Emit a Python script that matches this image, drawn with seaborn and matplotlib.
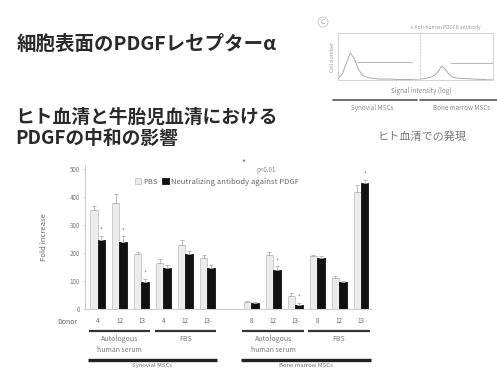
import numpy as np
import pandas as pd
import matplotlib
matplotlib.use('Agg')
import matplotlib.pyplot as plt
import matplotlib.transforms as mtransforms
from matplotlib.patches import Patch
import seaborn as sns

# ---- data ----
cell_types = ["Synovial MSCs"] * 6 + ["Bone marrow MSCs"] * 6
sera = (["Autologous\nhuman serum"] * 3 + ["FBS"] * 3) * 2
donors = ["4", "12", "13", "4", "12", "13", "8", "12", "13", "8", "12", "13"]
pbs = [354, 380, 195, 165, 230, 182, 25, 193, 48, 188, 110, 420]
anti = [246, 240, 98, 146, 198, 148, 22, 140, 16, 184, 95, 450]
pbs_err = [15, 30, 10, 15, 15, 10, 5, 10, 8, 5, 8, 25]
anti_err = [15, 20, 10, 10, 10, 8, 3, 12, 6, 5, 5, 12]
signif = [True, True, True, False, False, False, False, True, True, False, False, True]

# flow cytometry inset (log signal intensity vs cell number)
hist_x = [0.0, 0.2, 0.4, 0.6, 0.8, 1.0, 1.2, 1.4, 1.6, 1.8, 2.0, 2.5, 3.0, 3.5, 4.0]
syn_counts = [3, 12, 35, 58, 45, 22, 10, 6, 4, 3, 2, 2, 1, 1, 0]
bm_counts = [2, 3, 4, 6, 10, 18, 30, 22, 12, 6, 4, 3, 2, 1, 0]
syn_gate = (38, 0.95, 3.6)
bm_gate = (36, 1.65, 4.0)

labels = ["PBS", "Neutralizing antibody against PDGF"]
slots = [f"{c}|{s}|{d}" for c, s, d in zip(cell_types, sera, donors)]
order = slots[:6] + ["gap"] + slots[6:]

df = pd.DataFrame({
    "slot": slots * 2,
    "treatment": [labels[0]] * 12 + [labels[1]] * 12,
    "fold": pbs + anti,
})

sns.set_style('white')
plt.rcParams['font.family'] = ['Noto Sans CJK JP', 'DejaVu Sans']

fig = plt.figure(figsize=(4.97, 3.70), dpi=100)

# titles
fig.text(17 / 497, 1 - 44 / 370, "細胞表面のPDGFレセプターα", fontsize=14,
         fontweight='bold', color='#2a2a2a', va='center')
fig.text(15 / 497, 1 - 128 / 370, "ヒト血清と牛胎児血清における\nPDGFの中和の影響", fontsize=13.5,
         fontweight='bold', color='#2a2a2a', va='center', linespacing=1.1)

# ---- main bar chart ----
ax = fig.add_axes([85 / 497, 1 - 309 / 370, 287 / 497, 144 / 370])
sns.barplot(data=df, x="slot", y="fold", hue="treatment", order=order,
            hue_order=labels, palette=['#ececec', '#111111'], width=0.68,
            errorbar=None, legend=False, ax=ax)

for cont, errs, face, edge in zip(ax.containers, [pbs_err, anti_err],
                                  ['#ececec', '#111111'], ['#c4c4c4', '#111111']):
    bars = sorted([b for b in cont if b.get_height() > 0], key=lambda b: b.get_x())
    xs = [b.get_x() + b.get_width() / 2 for b in bars]
    hs = [b.get_height() for b in bars]
    for b in bars:
        b.set_facecolor(face)
        b.set_edgecolor(edge)
        b.set_linewidth(0.6)
    ax.errorbar(xs, hs, yerr=[np.zeros(len(errs)), errs], fmt='none',
                ecolor='#b0b0b0', elinewidth=0.6, capsize=1.2, capthick=0.6)
    if face == '#111111':
        for x, h, e, s in zip(xs, hs, errs, signif):
            if s:
                ax.text(x, h + e + 4, "*", ha='center', va='bottom',
                        fontsize=4.5, color='#888888')

ax.set_xlim(-0.57, 12.5)
ax.set_ylim(0, 515)
ax.set_yticks([0, 100, 200, 300, 400, 500])
ax.set_yticklabels(["0", "100", "200", "300", "400", "500"])
ax.set_xticks(range(len(order)))
ax.set_xticklabels([s.split("|")[-1] if s != "gap" else "" for s in order])
ax.tick_params(axis='x', length=0, pad=6, labelsize=4.5, labelcolor='#666666')
ax.tick_params(axis='y', length=1.5, pad=2, labelsize=4.5, labelcolor='#777777',
               color='#cccccc', width=0.5, left=True)
ax.set_xlabel("")
ax.set_ylabel("Fold increase", fontsize=5.5, color='#6a6a6a')
ax.yaxis.set_label_coords(-0.13, 0.5)
for side in ['top', 'right']:
    ax.spines[side].set_visible(False)
ax.spines['left'].set_color('#cccccc')
ax.spines['bottom'].set_color('#d0d0d0')
ax.spines['left'].set_linewidth(0.8)
ax.spines['bottom'].set_linewidth(0.8)

trans = mtransforms.blended_transform_factory(ax.transData, ax.transAxes)
ax.text(-0.9, -0.09, "Donor", transform=trans, ha='right', va='center',
        fontsize=5, color='#666666')

# group brackets under the axis
for cell in ["Synovial MSCs", "Bone marrow MSCs"]:
    cell_pos = [order.index(s) for s, c in zip(slots, cell_types) if c == cell]
    ax.plot([min(cell_pos) - 0.45, max(cell_pos) + 0.45], [-0.355, -0.355],
            transform=trans, color='#222222', lw=2.4, clip_on=False,
            solid_capstyle='butt')
    ax.text((min(cell_pos) + max(cell_pos)) / 2, -0.375, cell, transform=trans,
            ha='center', va='top', fontsize=4.3, color='#777777')
    for serum in ["Autologous\nhuman serum", "FBS"]:
        pos = [order.index(s) for s, c, r in zip(slots, cell_types, sera)
               if c == cell and r == serum]
        ax.plot([min(pos) - 0.4, max(pos) + 0.4], [-0.154, -0.154],
                transform=trans, color='#333333', lw=1.6, clip_on=False,
                solid_capstyle='butt')
        ax.text((min(pos) + max(pos)) / 2, -0.18, serum, transform=trans,
                ha='center', va='top', fontsize=5, color='#777777',
                linespacing=1.45)

handles = [Patch(facecolor='#ececec', edgecolor='#c4c4c4', lw=0.6),
           Patch(facecolor='#111111', edgecolor='#111111', lw=0.6)]
ax.legend(handles, labels, loc='center', bbox_to_anchor=(217 / 497, 1 - 182 / 370),
          bbox_transform=fig.transFigure, ncol=2, frameon=False, fontsize=5.5,
          handlelength=0.8, handleheight=0.8, columnspacing=0.6,
          handletextpad=0.3, labelcolor='#666666')
fig.text(243 / 497, 1 - 163 / 370, "*", fontsize=6, color='#666666',
         ha='center', va='center')
fig.text(256 / 497, 1 - 170 / 370, "p<0.01", fontsize=4.5, color='#888888',
         va='center')

# ---- flow cytometry inset ----
ax_l = fig.add_axes([338 / 497, 1 - 80 / 370, 82 / 497, 47 / 370])
ax_r = fig.add_axes([420 / 497, 1 - 80 / 370, 73 / 497, 47 / 370])
for a, counts, gate in [(ax_l, syn_counts, syn_gate), (ax_r, bm_counts, bm_gate)]:
    sns.lineplot(x=hist_x, y=counts, ax=a, color='#aaaaaa', lw=0.7)
    a.hlines(gate[0], gate[1], gate[2], color='#bbbbbb', lw=0.8)
    a.set_xlim(0, 4)
    a.set_ylim(0, 100)
    a.set_xticks([])
    a.set_yticks([])
    for sp in a.spines.values():
        sp.set_color('#cccccc')
        sp.set_linewidth(0.6)
ax_l.set_ylabel("Cell number", fontsize=3.8, color='#999999', labelpad=2)
ax_r.spines['left'].set_linestyle((0, (2, 2)))

fig.text(323 / 497, 1 - 22 / 370, "C", fontsize=5, color='#999999', ha='center',
         va='center', bbox=dict(boxstyle='circle,pad=0.15', fc='none', ec='#bbbbbb', lw=0.5))
fig.text(446 / 497, 1 - 28 / 370, "x Anti-human PDGFR antibody", fontsize=3.5,
         color='#999999', ha='center', va='center')
fig.text(421 / 497, 1 - 91 / 370, "Signal intensity (log)", fontsize=4.5,
         color='#888888', ha='center', va='center')
fig.add_artist(plt.Line2D([333 / 497, 417 / 497], [1 - 100 / 370] * 2,
                          color='#555555', lw=1.2))
fig.add_artist(plt.Line2D([420 / 497, 497 / 497], [1 - 100 / 370] * 2,
                          color='#555555', lw=1.2))
fig.text(372 / 497, 1 - 108 / 370, "Synovial MSCs", fontsize=4.5,
         color='#888888', ha='center', va='center')
fig.text(462 / 497, 1 - 108 / 370, "Bone marrow MSCs", fontsize=4.5,
         color='#888888', ha='center', va='center')
fig.text(422 / 497, 1 - 137 / 370, "ヒト血清での発現", fontsize=8,
         color='#777777', ha='center', va='center')

fig.savefig('out.png', dpi=100)
